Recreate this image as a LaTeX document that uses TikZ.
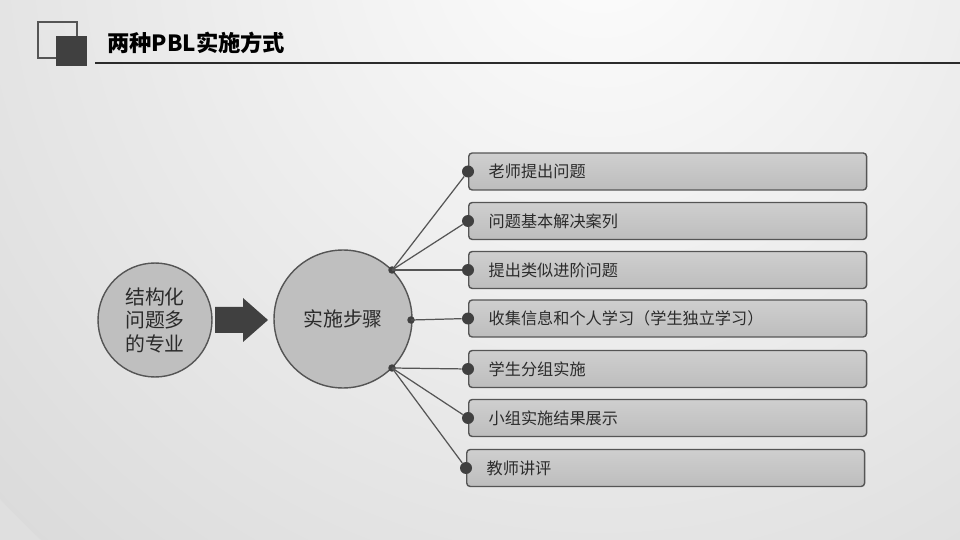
\documentclass[tikz,border=0pt]{standalone}
\usepackage{fontspec}
\setmainfont{Noto Sans CJK SC}
\definecolor{darkgray}{HTML}{404040}
\definecolor{linegray}{HTML}{555555}
\definecolor{textgray}{HTML}{2B2B2B}
\definecolor{ballgray}{HTML}{BFBFBF}
\definecolor{boxtop}{HTML}{CFCFCF}
\definecolor{boxbot}{HTML}{BDBDBD}
\tikzset{
    stepitem/.style={draw=linegray, line width=0.8pt, rounded corners=2pt,
        top color=boxtop, bottom color=boxbot, minimum width=7.96cm,
        minimum height=0.74cm, text width=7.16cm, inner xsep=0.4cm,
        align=left, anchor=west, text=textgray,
        font=\fontsize{9.2}{11}\selectfont},
    dot/.style={circle, fill=darkgray, inner sep=0pt, minimum size=0.24cm},
    hub/.style={circle, fill=darkgray, inner sep=0pt, minimum size=0.15cm},
    ball/.style={circle, draw=linegray, fill=ballgray, line width=0.8pt,
        inner sep=0pt, text=textgray, align=center}
}

\begin{document}
\begin{tikzpicture}[x=0.02cm, y=-0.02cm]
        \useasboundingbox (0, 0) rectangle (960, 540);
        \begin{scope}
            \clip (0, 0) rectangle (960, 540);
            \fill[gray!25] (0, 0) rectangle (960, 540);
            \shade[inner color=gray!2, outer color=gray!28] (600, -60) circle (820);
        \end{scope}

        \draw[linegray, line width=0.6pt] (38, 22) rectangle (77, 58);
        \fill[darkgray] (56, 36) rectangle (87, 66);
        \node[anchor=west, font=\fontsize{12.7}{15}\selectfont\bfseries] (title) at (101, 43) {两种PBL实施方式};
        \draw[textgray, line width=1.1pt] (95, 63) -- (960, 63);

        \node[ball, minimum size=2.28cm, font=\fontsize{11.3}{13.4}\selectfont] (major) at (155, 320) {结构化\\问题多\\的专业};
        \node[ball, minimum size=2.76cm, font=\fontsize{11.3}{13.4}\selectfont] (steps) at (343, 319) {实施步骤};
        \fill[darkgray] (215, 307) -- (243, 307) -- (243, 298) -- (268, 320) -- (243, 342) -- (243, 333) -- (215, 333) -- cycle;

        \node[hub] (hubup) at (392, 270) {};
        \node[hub] (hubmid) at (411, 320) {};
        \node[hub] (hubdown) at (392, 368) {};

        \node[stepitem] (s1) at (468, 171.5) {老师提出问题};
        \node[stepitem] (s2) at (468, 221) {问题基本解决案列};
        \node[stepitem] (s3) at (468, 270) {提出类似进阶问题};
        \node[stepitem] (s4) at (468, 318.5) {收集信息和个人学习（学生独立学习）};
        \node[stepitem] (s5) at (468, 369) {学生分组实施};
        \node[stepitem] (s6) at (468, 418) {小组实施结果展示};
        \node[stepitem] (s7) at (466, 468) {教师讲评};

        \node[dot] (d1) at (s1.west) {};
        \node[dot] (d2) at (s2.west) {};
        \node[dot] (d3) at (s3.west) {};
        \node[dot] (d4) at (s4.west) {};
        \node[dot] (d5) at (s5.west) {};
        \node[dot] (d6) at (s6.west) {};
        \node[dot] (d7) at (s7.west) {};

        \begin{scope}[linegray, line width=0.7pt]
            \draw (hubup.center) -- (d1);
            \draw (hubup.center) -- (d2);
            \draw (hubup.center) -- (d3);
            \draw (hubmid.center) -- (d4);
            \draw (hubdown.center) -- (d5);
            \draw (hubdown.center) -- (d6);
            \draw (hubdown.center) -- (d7);
        \end{scope}
    \end{tikzpicture}
\end{document}
